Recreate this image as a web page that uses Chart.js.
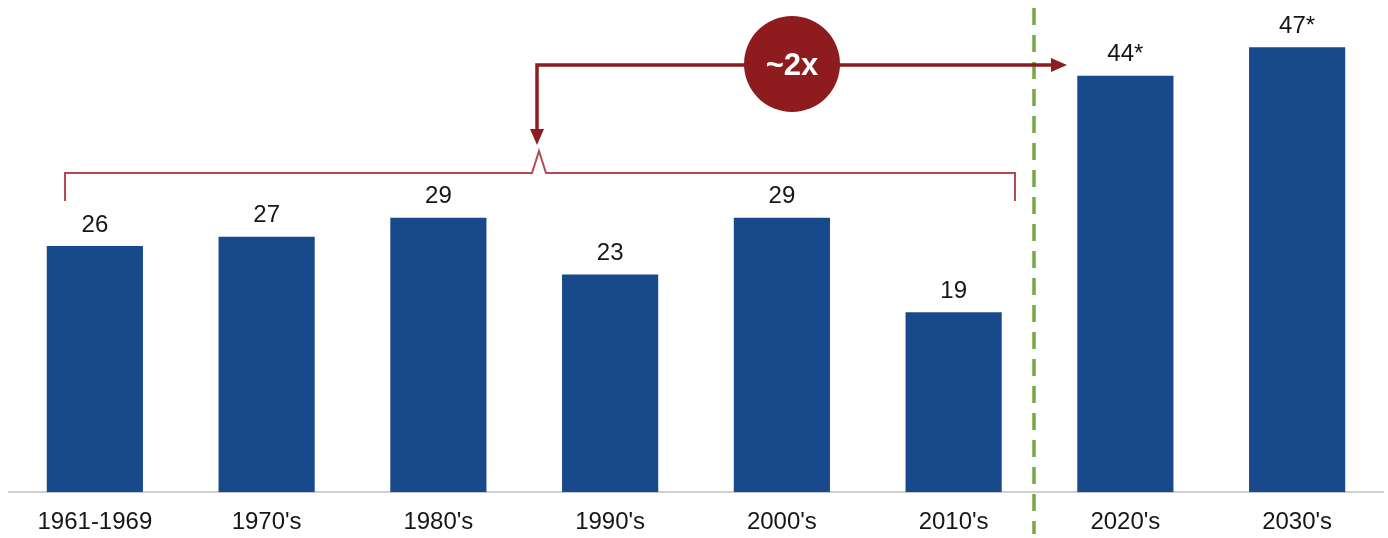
<!DOCTYPE html>
<html>
<head>
<meta charset="utf-8">
<script src="https://cdn.jsdelivr.net/npm/chart.js@4/dist/chart.umd.min.js"></script>
<style>
  html, body { margin: 0; padding: 0; background: #fff; }
  #wrap { width: 1388px; height: 538px; }
</style>
</head>
<body>
<div id="wrap"><canvas id="decades" width="1388" height="538"></canvas></div>
<script>
// decades along the axis
const decades = ['1961-1969', "1970's", "1980's", "1990's", "2000's", "2010's", "2020's", "2030's"];
// bar heights
const counts = [26, 27, 29, 23, 29, 19, 44, 47];
// text printed above each bar (forecasts carry an asterisk)
const countLabels = ['26', '27', '29', '23', '29', '19', '44*', '47*'];

const FONT = "'Liberation Sans', Arial, sans-serif";
const BAR_BLUE = '#184a8b';

// numbers above the bars
const valueLabels = {
  id: 'valueLabels',
  afterDatasetsDraw(chart) {
    const { ctx } = chart;
    const meta = chart.getDatasetMeta(0);
    ctx.save();
    ctx.font = `24px ${FONT}`;
    ctx.fillStyle = '#161616';
    ctx.textAlign = 'center';
    ctx.textBaseline = 'middle';
    meta.data.forEach((bar, i) => {
      ctx.fillText(countLabels[i], bar.x, bar.y - 21);
    });
    ctx.restore();
  }
};

// divider, bracket over the past decades and the "~2x" arrow
const overlay = {
  id: 'overlay',
  afterDatasetsDraw(chart) {
    const { ctx } = chart;
    const x = chart.scales.x;
    ctx.save();

    // green dashed divider between history and forecast
    const divX = Math.round(x.getPixelForValue(5.47));
    ctx.strokeStyle = '#77a843';
    ctx.lineWidth = 3.5;
    ctx.setLineDash([17, 10]);
    ctx.beginPath();
    ctx.moveTo(divX, 8);
    ctx.lineTo(divX, 534);
    ctx.stroke();
    ctx.setLineDash([]);

    // bracket spanning 1961 - 2010's
    const bl = 65, br = 1015, by = 173, caret = 539;
    ctx.strokeStyle = '#b24a53';
    ctx.lineWidth = 2;
    ctx.beginPath();
    ctx.moveTo(bl, 201);
    ctx.lineTo(bl, by);
    ctx.lineTo(caret - 7, by);
    ctx.lineTo(caret, by - 22);
    ctx.lineTo(caret + 7, by);
    ctx.lineTo(br, by);
    ctx.lineTo(br, 201);
    ctx.stroke();

    // elbow arrow from the forecast bars down to the bracket
    const ay = 65, ax = 537, tipX = 1067, tipY = 145;
    ctx.strokeStyle = '#8c1d20';
    ctx.fillStyle = '#8c1d20';
    ctx.lineWidth = 3.5;
    ctx.beginPath();
    ctx.moveTo(tipX - 14, ay);
    ctx.lineTo(ax, ay);
    ctx.lineTo(ax, tipY - 14);
    ctx.stroke();

    ctx.beginPath();
    ctx.moveTo(tipX, ay);
    ctx.lineTo(tipX - 16, ay - 7);
    ctx.lineTo(tipX - 16, ay + 7);
    ctx.closePath();
    ctx.fill();

    ctx.beginPath();
    ctx.moveTo(ax, tipY);
    ctx.lineTo(ax - 7, tipY - 16);
    ctx.lineTo(ax + 7, tipY - 16);
    ctx.closePath();
    ctx.fill();

    // circle badge
    ctx.fillStyle = '#8e1c1f';
    ctx.beginPath();
    ctx.arc(792, 64, 48, 0, Math.PI * 2);
    ctx.fill();
    ctx.fillStyle = '#ffffff';
    ctx.font = `bold 31px ${FONT}`;
    ctx.textAlign = 'center';
    ctx.textBaseline = 'middle';
    ctx.fillText('~2x', 792, 66);

    ctx.restore();
  }
};

new Chart(document.getElementById('decades'), {
  type: 'bar',
  data: {
    labels: decades,
    datasets: [{
      data: counts,
      backgroundColor: BAR_BLUE,
      borderWidth: 0,
      barPercentage: 0.56,
      categoryPercentage: 1
    }]
  },
  options: {
    responsive: false,
    animation: false,
    layout: { padding: { left: 9, right: 5, top: 0, bottom: -15 } },
    plugins: {
      legend: { display: false },
      tooltip: { enabled: false }
    },
    scales: {
      x: {
        grid: { display: false, drawTicks: false },
        border: { display: true, color: '#cfcfcf', width: 2 },
        ticks: { color: '#161616', padding: 16, font: { family: FONT, size: 24 } }
      },
      y: {
        display: false,
        min: 0,
        max: 52
      }
    }
  },
  plugins: [valueLabels, overlay]
});
</script>
</body>
</html>
